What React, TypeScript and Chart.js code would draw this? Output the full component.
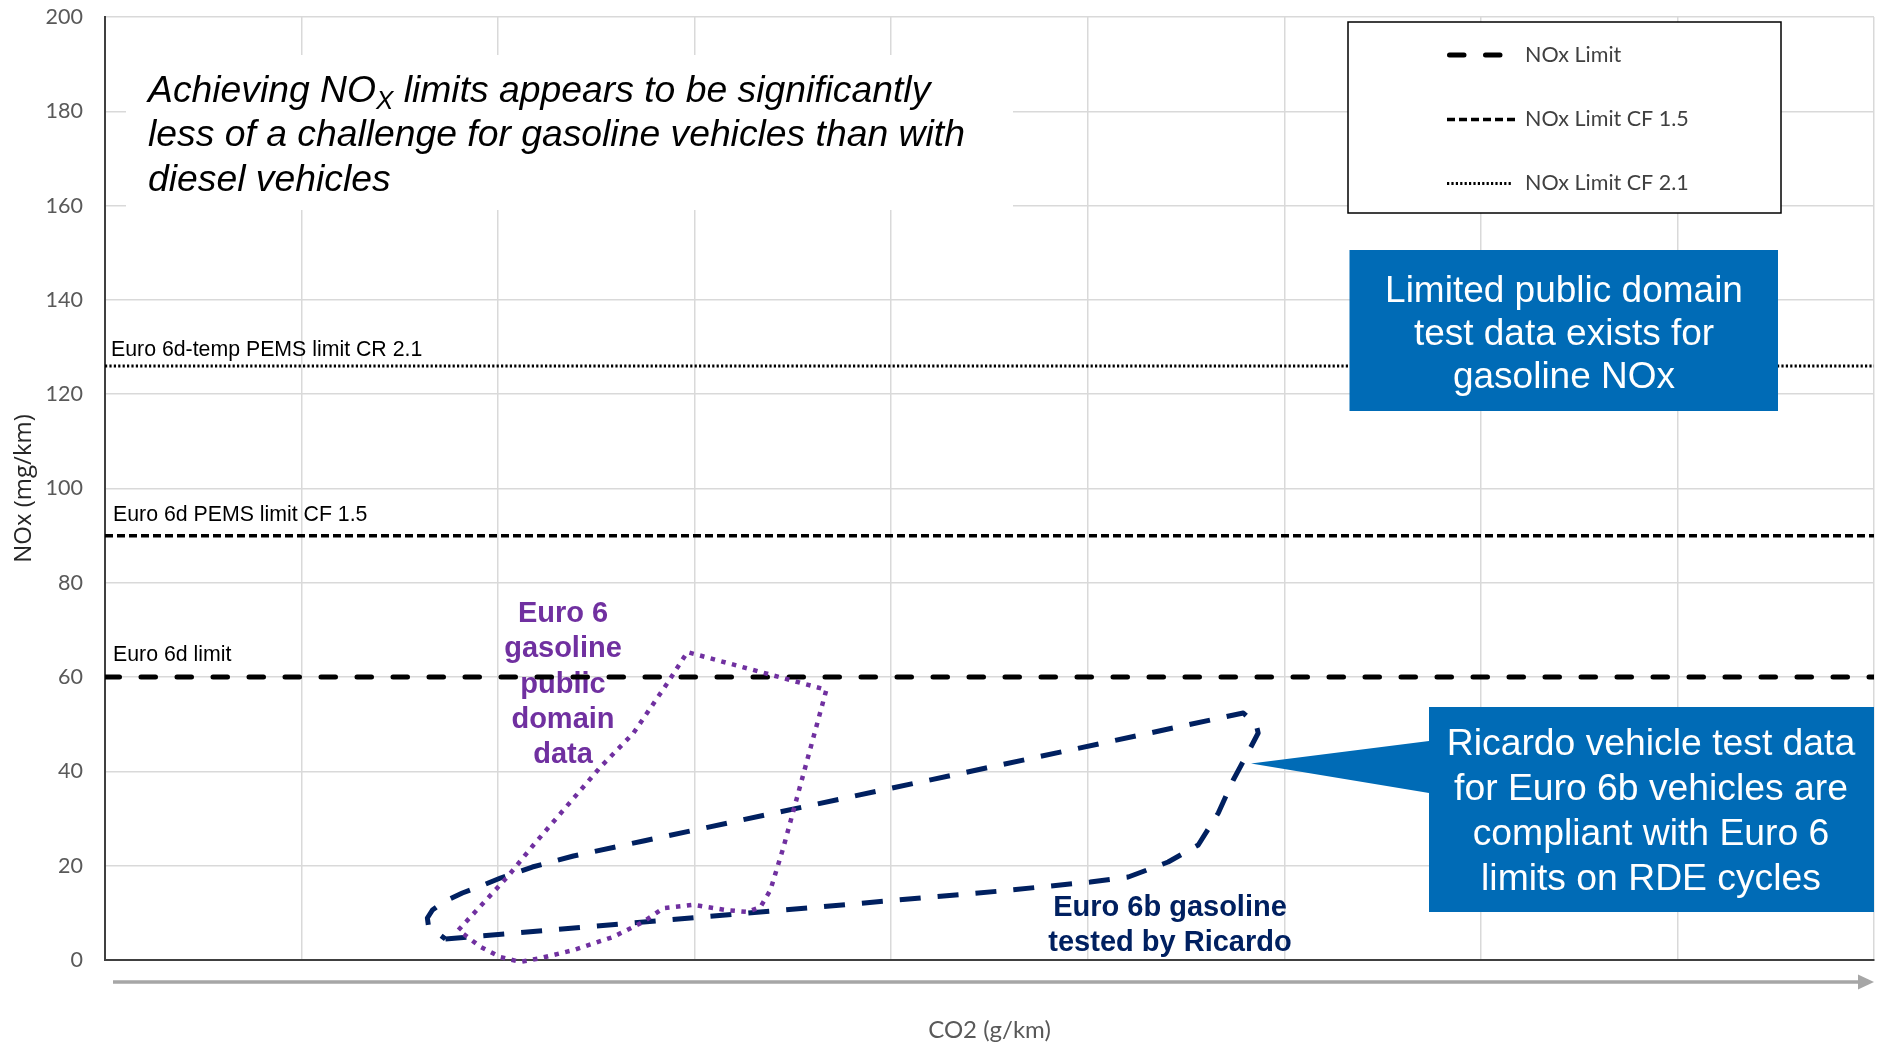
import React, { useEffect, useRef } from "react";
import { Chart, registerables } from "chart.js";

Chart.register(...registerables);

// Axis ranges (CO2 axis carries no numeric labels, one unit per grid column)
const co2Range = [0, 9];
const noxRange = [0, 200];
const noxStep = 20;

// Regulatory NOx limit lines (mg/km)
const limitNames = ["NOx Limit", "NOx Limit CF 1.5", "NOx Limit CF 2.1"];
const limitValues = [60, 90, 126];
const limitCaptions = ["Euro 6d limit", "Euro 6d PEMS limit CF 1.5", "Euro 6d-temp PEMS limit CR 2.1"];

// Envelope of Euro 6b gasoline vehicles tested by Ricardo
const ricardoCo2 = [
  1.732, 3.573, 4.555, 4.809, 5.013, 5.206, 5.409, 5.562, 5.664, 5.74, 5.827, 5.867, 5.857,
  5.791, 4.555, 2.739, 2.383, 2.174, 2.012, 1.9, 1.818, 1.722, 1.666, 1.64, 1.645, 1.671, 1.732,
];
const ricardoNox = [
  4.45, 11.03, 14.63, 15.69, 16.54, 17.6, 20.78, 24.39, 31.18, 38.18, 44.96, 48.14, 49.84,
  52.39, 41.36, 25.24, 22.06, 19.72, 17.39, 15.48, 14.21, 12.3, 10.6, 8.91, 7.42, 6.36, 4.45,
];

// Envelope of public-domain Euro 6 gasoline data
const publicCo2 = [
  1.798, 2.047, 2.18, 2.52, 2.688, 2.861, 2.963, 3.67, 3.451, 3.385, 3.334, 3.268, 3.156,
  2.993, 2.841, 2.739, 2.586, 2.383, 2.215, 2.113, 2.012, 1.91, 1.798,
];
const publicNox = [
  6.36, 17.6, 24.4, 40.9, 48.1, 58.7, 65.3, 57.3, 23.8, 14.8, 11.2, 10.2, 10.6,
  11.7, 11.0, 8.1, 4.9, 2.1, 0.4, -0.4, 0.6, 2.8, 6.36,
];

const headlineLines = [
  [{ t: "Achieving NO" }, { t: "X", sub: true }, { t: " limits appears to be significantly" }],
  [{ t: "less of a challenge for gasoline vehicles than with" }],
  [{ t: "diesel vehicles" }],
];
const publicLabel = ["Euro 6", "gasoline", "public", "domain", "data"];
const ricardoLabel = ["Euro 6b gasoline", "tested by Ricardo"];
const infoBoxText = ["Limited public domain", "test data exists for", "gasoline NOx"];
const calloutText = ["Ricardo vehicle test data", "for Euro 6b vehicles are", "compliant with Euro 6", "limits on RDE cycles"];

const NAVY = "#002060";
const PURPLE = "#7030A0";
const BLUE = "#006bb6";
const GRID = "#d9d9d9";
const AXIS = "#595959";
const SANS = "'Liberation Sans', Arial, sans-serif";

const limitStyles = [
  { width: 5, dash: [14.5, 21.5], cap: "round" },
  { width: 3.5, dash: [8, 4], cap: "butt" },
  { width: 3, dash: [2.2, 2.2], cap: "butt" },
];
const captionLift = [16, 15, 10];

const toPoints = (xs: number[], ys: number[]) => xs.map((x, i) => ({ x, y: ys[i] }));

const annotations = {
  id: "slideAnnotations",
  beforeDatasetsDraw(chart: any) {
    const { ctx, chartArea, scales } = chart;
    const y = scales.y;
    ctx.save();

    // white panel behind the headline
    ctx.fillStyle = "#ffffff";
    ctx.fillRect(126, 55, 887, 155);

    // headline
    const hSize = 37.3;
    ctx.fillStyle = "#000000";
    ctx.textBaseline = "alphabetic";
    ctx.textAlign = "left";
    const baselines = [101.5, 146, 190.5];
    headlineLines.forEach((parts, li) => {
      let x = 148;
      parts.forEach((p: any) => {
        const size = p.sub ? Math.round(hSize * 0.7) : hSize;
        ctx.font = `italic ${size}px ${SANS}`;
        ctx.fillText(p.t, x, baselines[li] + (p.sub ? 7 : 0));
        x += ctx.measureText(p.t).width;
      });
    });

    // captions above the limit lines
    ctx.font = `21.3px ${SANS}`;
    ctx.fillStyle = "#000000";
    limitValues.forEach((v, i) => {
      ctx.fillText(limitCaptions[i], chartArea.left + 8 + (i === 2 ? -2 : 0), y.getPixelForValue(v) - captionLift[i]);
    });

    // public-domain envelope label
    ctx.font = `bold 29px ${SANS}`;
    ctx.fillStyle = PURPLE;
    ctx.textAlign = "center";
    ctx.textBaseline = "middle";
    publicLabel.forEach((t, i) => ctx.fillText(t, 563, 614 + i * 35.3));

    // Ricardo envelope label
    ctx.fillStyle = NAVY;
    ricardoLabel.forEach((t, i) => ctx.fillText(t, 1170, 908 + i * 35));
    ctx.restore();
  },
  afterDatasetsDraw(chart: any) {
    const { ctx, chartArea } = chart;
    ctx.save();

    // legend panel
    ctx.fillStyle = "#ffffff";
    ctx.fillRect(1348, 22, 433, 191);
    ctx.strokeStyle = "#000000";
    ctx.lineWidth = 1.5;
    ctx.strokeRect(1348, 22, 433, 191);
    const sampleEnds = [1500, 1518, 1511];
    const rows = [55, 119.5, 183.5];
    limitNames.forEach((name, i) => {
      const ds = chart.data.datasets[i];
      ctx.beginPath();
      ctx.setLineDash(ds.borderDash);
      ctx.lineDashOffset = 0;
      ctx.lineCap = ds.borderCapStyle;
      ctx.lineWidth = ds.borderWidth;
      ctx.strokeStyle = ds.borderColor;
      const x0 = ds.borderCapStyle === "round" ? 1449.5 : 1447;
      ctx.moveTo(x0, rows[i]);
      ctx.lineTo(sampleEnds[i], rows[i]);
      ctx.stroke();
      ctx.setLineDash([]);
      ctx.font = "21.5px Lato, sans-serif";
      ctx.fillStyle = "#404040";
      ctx.textAlign = "left";
      ctx.textBaseline = "middle";
      ctx.fillText(name, 1525, rows[i]);
    });

    // info box
    ctx.fillStyle = BLUE;
    ctx.fillRect(1349.5, 250, 428.5, 161);
    ctx.fillStyle = "#ffffff";
    ctx.font = `37px ${SANS}`;
    ctx.textAlign = "center";
    ctx.textBaseline = "alphabetic";
    infoBoxText.forEach((t, i) => ctx.fillText(t, 1564, 302 + i * 43));

    // callout pointing at the Ricardo envelope
    ctx.fillStyle = BLUE;
    ctx.beginPath();
    ctx.moveTo(1429, 707);
    ctx.lineTo(1874, 707);
    ctx.lineTo(1874, 912);
    ctx.lineTo(1429, 912);
    ctx.lineTo(1429, 793);
    ctx.lineTo(1251, 763.5);
    ctx.lineTo(1429, 741);
    ctx.closePath();
    ctx.fill();
    ctx.fillStyle = "#ffffff";
    ctx.font = `37.3px ${SANS}`;
    calloutText.forEach((t, i) => ctx.fillText(t, 1651, 755 + i * 45));

    // arrow under the CO2 axis
    const ay = 982;
    ctx.strokeStyle = "#a6a6a6";
    ctx.fillStyle = "#a6a6a6";
    ctx.lineWidth = 3.5;
    ctx.beginPath();
    ctx.moveTo(chartArea.left + 8, ay);
    ctx.lineTo(chartArea.right - 14, ay);
    ctx.stroke();
    ctx.beginPath();
    ctx.moveTo(chartArea.right - 16, ay - 7.5);
    ctx.lineTo(chartArea.right, ay);
    ctx.lineTo(chartArea.right - 16, ay + 7.5);
    ctx.closePath();
    ctx.fill();
    ctx.restore();
  },
};

const gridColor = (c: any) => (c.tick && c.tick.value === 0 ? "rgba(0,0,0,0)" : GRID);

export default function App() {
  const canvasRef = useRef<HTMLCanvasElement | null>(null);

  useEffect(() => {
    const canvas = canvasRef.current;
    if (!canvas) return;
    const limitSets = limitValues.map((v, i) => ({
      label: limitNames[i],
      data: co2Range.map((x) => ({ x, y: v })),
      showLine: true,
      borderColor: "#000000",
      borderWidth: limitStyles[i].width,
      borderDash: limitStyles[i].dash,
      borderCapStyle: limitStyles[i].cap,
      pointRadius: 0,
      order: 2,
    }));
    const chart = new Chart(canvas, {
      type: "scatter",
      data: {
        datasets: [
          ...limitSets,
          {
            label: "Euro 6b gasoline tested by Ricardo",
            data: toPoints(ricardoCo2, ricardoNox),
            showLine: true,
            borderColor: NAVY,
            borderWidth: 5,
            borderDash: [21, 17],
            borderCapStyle: "butt",
            borderJoinStyle: "round",
            pointRadius: 0,
            tension: 0,
            order: 1,
          },
          {
            label: "Euro 6 gasoline public domain data",
            data: toPoints(publicCo2, publicNox),
            showLine: true,
            borderColor: PURPLE,
            borderWidth: 4.5,
            borderDash: [4.5, 6.5],
            borderCapStyle: "butt",
            pointRadius: 0,
            tension: 0,
            clip: 8,
            order: 0,
          },
        ] as any,
      },
      options: {
        animation: false,
        responsive: false,
        maintainAspectRatio: false,
        events: [],
        layout: { padding: { top: 17, right: 3, left: 0, bottom: 0 } },
        plugins: { legend: { display: false }, tooltip: { enabled: false } },
        scales: {
          x: {
            type: "linear",
            min: co2Range[0],
            max: co2Range[1],
            ticks: { display: false, stepSize: 1 },
            grid: { color: gridColor, lineWidth: 1.5, drawTicks: false },
            border: { color: "#404040", width: 2 },
            title: {
              display: true,
              text: "CO2 (g/km)",
              color: AXIS,
              font: { family: "Lato", size: 24 },
              padding: { top: 61, bottom: 0 },
            },
            afterFit: (s: any) => {
              s.height = 85;
            },
          },
          y: {
            type: "linear",
            min: noxRange[0],
            max: noxRange[1],
            ticks: { stepSize: noxStep, color: AXIS, font: { family: "Lato", size: 21.5 }, padding: 22 },
            grid: { color: gridColor, lineWidth: 1.5, drawTicks: false },
            border: { color: "#404040", width: 2 },
            title: {
              display: true,
              text: "NOx (mg/km)",
              color: "#262626",
              font: { family: "'Open Sans'", size: 24 },
              padding: { top: 10, bottom: 0 },
            },
            afterFit: (s: any) => {
              s.width = 105;
              s.paddingTop = 12;
              s.paddingBottom = 12;
            },
          },
        },
      } as any,
      plugins: [annotations],
    });
    return () => chart.destroy();
  }, []);

  return (
    <div style={{ position: "absolute", left: 0, top: 0, width: 1877, height: 1045, background: "#ffffff" }}>
      <canvas ref={canvasRef} width={1877} height={1045} style={{ display: "block" }} />
    </div>
  );
}
